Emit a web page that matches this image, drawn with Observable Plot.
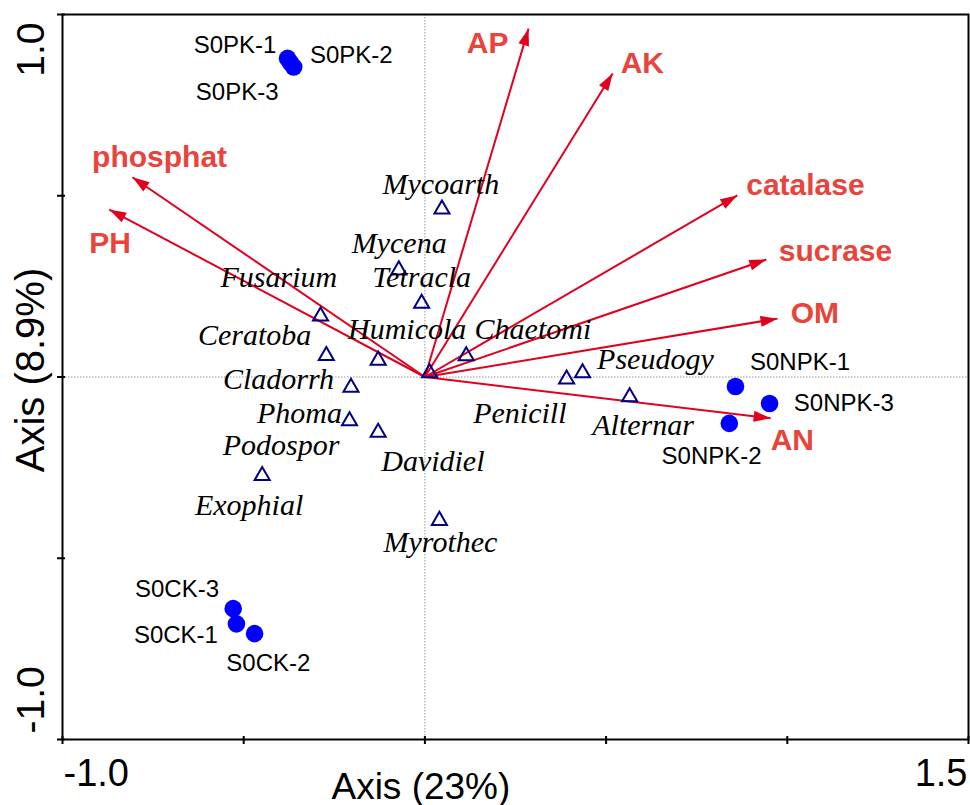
<!DOCTYPE html>
<html>
<head>
<meta charset="utf-8">
<script src="https://cdn.jsdelivr.net/npm/d3@7"></script>
<script src="https://cdn.jsdelivr.net/npm/@observablehq/plot@0.6"></script>
<style>
  body { margin: 0; background: #fff; }
  #chart svg { display: block; }
</style>
</head>
<body>
<div id="chart"></div>
<script>
// ---- Axis ticks ----
const xTicks = [-1, -0.5, 0, 0.5, 1, 1.5];
const yTicks = [-1, -0.5, 0, 0.5, 1];
const xTickLabelsStart = [-1];
const xTickLabelsEnd = [1.5];
const yTickLabelsTop = [1];
const yTickLabelsBottom = [-1];
const xTitle = "Axis (23%)";
const yTitle = "Axis (8.9%)";

// ---- Environmental variables (arrows) ----
const envVars   = ["AP", "AK", "catalase", "sucrase", "OM", "AN", "phosphat", "PH"];
const envX      = [0.286, 0.518, 0.862, 0.942, 0.973, 0.954, -0.807, -0.871];
const envY      = [0.961, 0.837, 0.501, 0.324, 0.161, -0.114, 0.551, 0.462];
const envLabelX = [0.173, 0.600, 1.050, 1.133, 1.076, 1.014, -0.732, -0.869];
const envLabelY = [0.895, 0.840, 0.503, 0.320, 0.150, -0.200, 0.580, 0.341];

// ---- Samples (filled circles) ----
const samples      = ["S0PK-1", "S0PK-2", "S0PK-3", "S0NPK-1", "S0NPK-2", "S0NPK-3", "S0CK-1", "S0CK-2", "S0CK-3"];
const sampleX      = [-0.379, -0.362, -0.371, 0.857, 0.840, 0.951, -0.520, -0.470, -0.529];
const sampleY      = [0.879, 0.855, 0.867, -0.026, -0.128, -0.073, -0.681, -0.708, -0.639];
const sampleLabelX = [-0.524, -0.203, -0.518, 1.035, 0.791, 1.156, -0.687, -0.432, -0.684];
const sampleLabelY = [0.895, 0.865, 0.763, 0.018, -0.239, -0.095, -0.735, -0.810, -0.608];

// ---- Species (open triangles) ----
const species       = ["Mycoarth", "Mycena", "Tetracla", "Fusarium", "Humicola", "Chaetomi", "Ceratoba", "Exophial",
                       "Cladorrh", "Phoma", "Davidiel", "Podospor", "Myrothec", "Penicill", "Pseudogy", "Alternar"];
const speciesX      = [0.047, -0.072, -0.009, -0.288, -0.129, 0.114, -0.272, 0.013,
                       -0.204, -0.208, -0.129, -0.449, 0.040, 0.391, 0.435, 0.565];
const speciesY      = [0.463, 0.295, 0.203, 0.168, 0.046, 0.058, 0.059, 0.011,
                       -0.029, -0.121, -0.153, -0.272, -0.396, -0.006, 0.011, -0.055];
const speciesLabelX = [0.044, -0.071, -0.009, -0.403, -0.049, 0.298, -0.470, -0.485,
                       -0.404, -0.346, 0.022, -0.397, 0.043, 0.262, 0.636, 0.602];
const speciesLabelY = [0.506, 0.343, 0.247, 0.247, 0.106, 0.106, 0.087, -0.382,
                       -0.032, -0.126, -0.258, -0.214, -0.484, -0.128, 0.021, -0.161];

// ---- Build tables ----
const envData = envVars.map((name, i) => ({
  name, x: envX[i], y: envY[i], lx: envLabelX[i], ly: envLabelY[i],
  angle: Math.atan2(envX[i], envY[i]) * 180 / Math.PI
}));
const sampleData = samples.map((name, i) => ({name, x: sampleX[i], y: sampleY[i], lx: sampleLabelX[i], ly: sampleLabelY[i]}));
const speciesData = species.map((name, i) => ({name, x: speciesX[i], y: speciesY[i], lx: speciesLabelX[i], ly: speciesLabelY[i]}));

const fmt = d => d.toFixed(1);
const arrowHead = {
  draw(context) {
    context.moveTo(0, 0);
    context.lineTo(-5.5, 17);
    context.lineTo(5.5, 17);
    context.closePath();
  }
};
const arrowColor = "#e1001e";
const envLabelColor = "#e8443c";

const chart = Plot.plot({
  width: 970,
  height: 805,
  marginLeft: 62,
  marginRight: 2,
  marginTop: 14,
  marginBottom: 66,
  x: {domain: [-1, 1.5]},
  y: {domain: [-1, 1]},
  style: {fontFamily: "Arial, 'Liberation Sans', sans-serif", background: "#fff", color: "#000"},
  marks: [
    Plot.ruleX([0], {stroke: "#999", strokeWidth: 1, strokeDasharray: "1.5,1.5"}),
    Plot.ruleY([0], {stroke: "#999", strokeWidth: 1, strokeDasharray: "1.5,1.5"}),
    Plot.link(envData, {x1: 0, y1: 0, x2: "x", y2: "y", stroke: arrowColor, strokeWidth: 2}),
    Plot.dot(envData, {x: "x", y: "y", symbol: arrowHead, rotate: "angle", fill: arrowColor, stroke: "none", r: 5}),
    Plot.dot(speciesData, {x: "x", y: "y", symbol: "triangle", r: 5.6, stroke: "#000080", strokeWidth: 2, fill: "none"}),
    Plot.dot(sampleData, {x: "x", y: "y", r: 8.8, fill: "#0000ff", stroke: "none"}),
    Plot.frame({stroke: "#000", strokeWidth: 2}),
    // ticks crossing the axis lines
    Plot.axisX({ticks: xTicks, tickSize: 8, dy: -3, strokeWidth: 2, tickFormat: () => ""}),
    Plot.axisY({ticks: yTicks, tickSize: 8, dx: 3, strokeWidth: 2, tickFormat: () => ""}),
    // tick labels
    Plot.axisX({ticks: xTickLabelsStart, tickSize: 0, tickPadding: 46, textAnchor: "start", lineAnchor: "bottom", dx: 1, tickFormat: fmt, fontSize: 38}),
    Plot.axisX({ticks: xTickLabelsEnd, tickSize: 0, tickPadding: 46, textAnchor: "end", lineAnchor: "bottom", dx: -1, tickFormat: fmt, fontSize: 38}),
    Plot.axisY({ticks: yTickLabelsTop, tickSize: 0, tickPadding: 19, tickRotate: -90, textAnchor: "end", lineAnchor: "bottom", dy: 8, tickFormat: fmt, fontSize: 39}),
    Plot.axisY({ticks: yTickLabelsBottom, tickSize: 0, tickPadding: 19, tickRotate: -90, textAnchor: "start", lineAnchor: "bottom", dy: -6, tickFormat: fmt, fontSize: 39}),
    // axis titles
    Plot.text([xTitle], {x: 0, frameAnchor: "bottom", textAnchor: "middle", lineAnchor: "bottom", dy: 59, dx: -4, fontSize: 37, fill: "#000"}),
    Plot.text([yTitle], {frameAnchor: "left", y: 0, rotate: -90, textAnchor: "middle", lineAnchor: "bottom", dx: -19, dy: -7, fontSize: 40, fill: "#000"}),
    // labels
    Plot.text(speciesData, {x: "lx", y: "ly", text: "name", textAnchor: "middle", lineAnchor: "bottom", fontSize: 30, fontStyle: "italic", fontFamily: "'Liberation Serif', 'Times New Roman', serif", fill: "#000"}),
    Plot.text(sampleData, {x: "lx", y: "ly", text: "name", textAnchor: "middle", lineAnchor: "bottom", fontSize: 24, fill: "#000"}),
    Plot.text(envData, {x: "lx", y: "ly", text: "name", textAnchor: "middle", lineAnchor: "bottom", fontSize: 30, fontWeight: "bold", fill: envLabelColor})
  ]
});
document.getElementById("chart").appendChild(chart);
</script>
</body>
</html>
